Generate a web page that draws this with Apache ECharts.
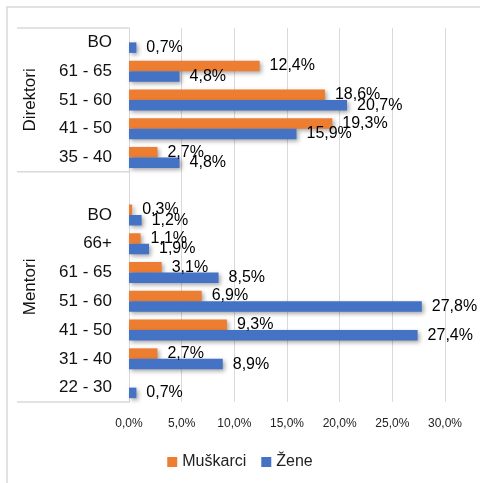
<!DOCTYPE html>
<html>
<head>
<meta charset="utf-8">
<script src="https://cdn.jsdelivr.net/npm/echarts@6/dist/echarts.min.js"></script>
<style>
  html, body { margin: 0; padding: 0; background: #fff; }
  #chart { width: 480px; height: 483px; }
</style>
</head>
<body>
<div id="chart"></div>
<script>
// kategorije od vrha prema dnu (prazan red između grupa)
var groups = ['Direktori', 'Mentori'];
var groupSizes = [5, 8];
var ageGroups = ['BO', '61 - 65', '51 - 60', '41 - 50', '35 - 40',
                 '', 'BO', '66+', '61 - 65', '51 - 60', '41 - 50', '31 - 40', '22 - 30'];
var muskarci = [null, 12.4, 18.6, 19.3, 2.7, null, 0.3, 1.1, 3.1, 6.9, 9.3, 2.7, null];
var zene = [0.7, 4.8, 20.7, 15.9, 4.8, null, 1.2, 1.9, 8.5, 27.8, 27.4, 8.9, 0.7];
var xMax = 30;
var xStep = 5;

var font = 'Liberation Sans, Arial, sans-serif';
var fmt = function (v) { return v.toFixed(1).replace('.', ',') + '%'; };

var chart = echarts.init(document.getElementById('chart'));

function barLabel() {
  return {
    show: true,
    position: 'right',
    distance: 10,
    color: '#000',
    fontSize: 16,
    fontFamily: font,
    formatter: function (p) { return fmt(p.value); }
  };
}

var option = {
  animation: false,
  textStyle: { fontFamily: font },
  grid: { left: 129, right: 35, top: 28, bottom: 81 },
  legend: {
    bottom: 8,
    left: 'center',
    icon: 'rect',
    itemWidth: 10,
    itemHeight: 10,
    itemGap: 15,
    textStyle: { fontSize: 16, color: '#222', fontFamily: font },
    data: ['Muškarci', 'Žene']
  },
  xAxis: {
    type: 'value',
    min: 0,
    max: xMax,
    interval: xStep,
    axisLine: { show: false },
    axisTick: { show: false },
    splitLine: { lineStyle: { color: '#d9d9d9', width: 1 } },
    axisLabel: { fontSize: 12, color: '#222', margin: 16, formatter: fmt }
  },
  yAxis: {
    type: 'category',
    inverse: true,
    data: ageGroups,
    axisLine: { lineStyle: { color: '#d9d9d9' } },
    axisTick: { show: false },
    axisLabel: { fontSize: 17, color: '#111', margin: 17 }
  },
  series: [{
    name: 'Muškarci',
    type: 'bar',
    data: muskarci,
    barGap: '0%',
    barCategoryGap: '27%',
    itemStyle: {
      color: '#ED7D31',
      shadowColor: 'rgba(0,0,0,0.35)',
      shadowBlur: 4,
      shadowOffsetX: 2,
      shadowOffsetY: 2
    },
    label: barLabel()
  }, {
    name: 'Žene',
    type: 'bar',
    data: zene,
    barGap: '0%',
    barCategoryGap: '27%',
    itemStyle: {
      color: '#4472C4',
      shadowColor: 'rgba(0,0,0,0.35)',
      shadowBlur: 4,
      shadowOffsetX: 2,
      shadowOffsetY: 2
    },
    label: barLabel()
  }]
};

chart.setOption(option);

// okvir grupa (Direktori / Mentori) izračunat iz osi
var yTop = chart.convertToPixel({ yAxisIndex: 0 }, 0);
var yNext = chart.convertToPixel({ yAxisIndex: 0 }, 1);
var band = yNext - yTop;
var axisX = chart.convertToPixel({ xAxisIndex: 0 }, 0);
var lineLeft = 17;
var graphics = [{
  type: 'rect',
  shape: { x: 7, y: 7, width: 520, height: 520 },
  style: { fill: null, stroke: '#d9d9d9', lineWidth: 1.5 },
  silent: true
}];
var start = 0;
var edgeY = yTop - band / 2;
graphics.push({
  type: 'line',
  shape: { x1: lineLeft, y1: edgeY, x2: axisX, y2: edgeY },
  style: { stroke: '#d9d9d9', lineWidth: 1.5 }
});
groups.forEach(function (g, i) {
  var endIdx = start + groupSizes[i];
  var y0 = yTop + (start - 0.5) * band;
  var y1 = yTop + (endIdx - 0.5) * band;
  graphics.push({
    type: 'line',
    shape: { x1: lineLeft, y1: y1, x2: axisX, y2: y1 },
    style: { stroke: '#d9d9d9', lineWidth: 1.5 }
  });
  graphics.push({
    type: 'text',
    x: 30,
    y: (y0 + y1) / 2,
    rotation: Math.PI / 2,
    style: {
      text: g,
      fontSize: 17,
      fontFamily: font,
      fill: '#111',
      align: 'center',
      verticalAlign: 'middle'
    }
  });
  start = endIdx;
});
chart.setOption({ graphic: graphics });
</script>
</body>
</html>
